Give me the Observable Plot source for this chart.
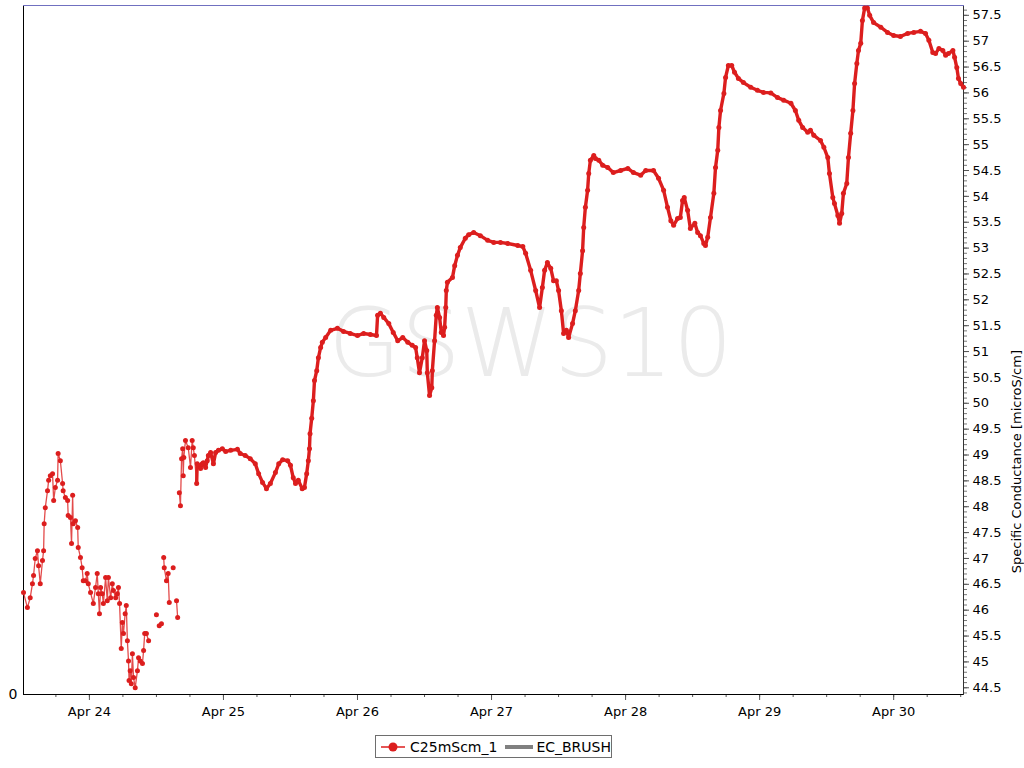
<!DOCTYPE html>
<html><head><meta charset="utf-8">
<script src="https://cdn.jsdelivr.net/npm/d3@7"></script>
<script src="https://cdn.jsdelivr.net/npm/@observablehq/plot@0.6"></script>
<style>
body{margin:0;background:#fff;font-family:"DejaVu Sans",sans-serif;}
#wrap{position:relative;width:1024px;height:768px;}
#legend{position:absolute;left:375px;top:735px;width:235px;height:21px;border:1px solid #6e6e6e;display:flex;align-items:center;font-size:14px;color:#000;}
#legend span{white-space:nowrap}
</style></head>
<body><div id="wrap"><div id="chart"></div>
<div id="legend">
<svg width="30" height="20" style="margin-left:3px"><line x1="2" x2="26" y1="10" y2="10" stroke="#dc1e1e" stroke-width="1.5"/><circle cx="14" cy="10" r="4.5" fill="#dc1e1e"/></svg>
<span style="margin-left:2px">C25mScm_1</span>
<svg width="34" height="20" style="margin-left:5px"><rect x="3" y="8" width="28" height="4" fill="#808080"/></svg>
<span style="margin-left:1px">EC_BRUSH</span>
</div></div>
<script>
// hours since Apr 24 00:00, null value = gap in the record
const hours = [
-11.8,-11.1,-10.6,-10.2,-10.0,-9.7,-9.3,-9.1,-8.8,-8.4,-8.2,-8.1,-7.9,-7.5,-7.3,-7.0,-6.6,-6.4,-6.1,-5.7,-5.6,-5.2,-4.8,-4.7,-4.3,-3.9,-3.8,-3.4,-3.2,-3.0,-2.9,-2.5,-2.1,-2.0,-1.6,-1.3,-1.1,-0.7,-0.4,-0.2,
0.2,0.7,1.1,1.4,1.6,1.8,2.0,2.3,2.5,2.9,3.2,3.4,3.8,4.1,4.3,4.7,5.0,5.2,5.4,5.7,5.9,6.1,6.4,6.6,6.8,7.0,7.1,7.3,7.5,7.7,7.9,8.2,8.6,8.8,9.1,9.5,9.7,9.9,10.2,10.6,
11.3,12.0,12.2,12.5,12.9,13.1,13.3,13.4,13.8,14.1,14.3,14.6,15.0,15.3,15.6,15.8,15.9,
16.1,16.3,16.5,16.7,16.8,16.9,17.2,17.7,18.1,18.4,18.6,18.8,19.2,19.3,19.5,19.9,20.2,20.4,20.8,21.1,21.3,21.7,22.2,22.6,23.1,23.8,24.4,25.3,26.5,27.0,27.9,28.8,29.7,30.3,31.0,31.7,32.4,33.3,33.9,34.6,35.5,36.0,36.5,36.9,37.4,38.1,38.5,38.9,39.2,39.4,
39.5,39.8,40.1,40.3,40.7,41.0,41.4,41.7,42.3,43.2,44.4,45.5,46.7,48.0,49.1,50.3,51.4,51.6,52.1,52.7,53.6,54.4,55.2,56.1,57.0,57.8,58.4,58.7,59.1,59.6,60.0,60.4,60.5,60.9,61.3,61.4,61.8,62.1,62.3,62.7,63.0,63.4,63.6,63.8,63.9,64.1,65.0,65.4,65.9,66.4,67.3,67.9,68.8,70.0,71.3,72.4,73.6,74.9,76.7,77.6,
78.1,79.0,79.9,80.6,81.1,81.5,82.0,82.6,83.1,83.6,84.0,84.5,84.9,85.4,85.8,86.5,87.0,87.6,87.9,88.3,88.5,88.8,89.2,89.4,89.7,90.3,90.6,91.2,91.9,92.8,93.8,95.1,96.4,97.4,98.7,99.6,101.0,101.9,102.8,103.5,104.1,104.6,105.3,105.8,106.2,106.5,107.1,107.6,108.4,108.9,109.4,110.0,110.3,110.7,111.2,111.8,112.1,112.5,112.7,113.0,113.6,113.9,114.4,115.0,115.5,116.2,117.1,118.4,119.6,120.7,122.0,123.2,124.3,125.6,126.4,127.0,127.7,128.6,129.1,129.7,130.9,131.5,132.2,132.5,133.1,133.4,134.0,134.3,134.7,135.0,135.6,135.9,136.3,136.7,137.0,137.4,137.7,138.1,138.4,138.8,139.3,139.7,140.4,141.7,142.9,144.0,145.2,146.5,147.6,148.8,149.7,150.3,151.0,151.5,152.1,152.8,153.3,153.8,154.6,154.9,155.3,155.6,156.0,156.5
];
const values = [
46.34,46.05,46.24,46.51,46.67,47.00,47.15,46.86,46.51,46.96,47.15,47.67,47.98,48.31,48.51,48.60,48.64,48.12,48.37,48.51,49.03,48.89,48.45,48.31,48.18,48.12,47.83,47.79,47.29,48.22,47.67,47.73,47.60,47.21,47.02,46.82,46.57,46.57,46.71,46.51,
46.34,46.13,46.44,46.71,46.32,45.93,46.44,46.32,46.13,46.63,46.18,46.63,46.24,46.51,46.38,46.24,46.32,46.44,46.13,45.26,45.76,45.55,45.93,46.09,45.41,45.02,44.64,44.83,44.58,45.16,44.70,44.50,44.83,45.08,45.02,44.97,45.22,45.55,45.55,45.41,
null,45.91,null,45.70,45.74,null,47.02,46.82,46.57,46.71,46.15,null,46.82,null,46.18,45.86,null,
48.27,48.02,48.93,49.12,48.60,48.95,49.28,49.14,48.76,49.28,49.14,48.99,48.45,48.83,48.80,48.74,48.83,48.85,48.76,48.89,48.99,49.05,48.83,49.05,49.09,49.12,49.07,49.09,49.11,49.03,48.99,48.93,48.83,48.64,48.47,48.35,48.45,48.66,48.83,48.91,48.89,48.80,48.56,48.45,48.51,48.35,48.37,48.64,48.89,49.12,
49.41,49.71,50.05,50.44,50.63,50.88,51.08,51.18,51.27,51.41,51.45,51.39,51.35,51.31,51.35,51.33,51.31,51.70,51.74,51.66,51.54,51.37,51.21,51.27,51.18,51.12,51.08,50.88,50.59,50.88,51.21,51.02,50.59,50.15,50.30,50.63,51.21,51.70,51.85,51.66,51.37,51.31,51.47,51.85,52.18,52.34,52.43,52.66,52.86,53.01,53.19,53.26,53.30,53.24,53.15,53.11,53.11,53.09,53.05,53.03,
52.90,52.57,52.18,51.85,52.24,52.57,52.72,52.61,52.37,52.37,52.18,51.79,51.35,51.41,51.27,51.54,51.79,52.18,52.51,52.95,53.40,53.79,54.12,54.44,54.70,54.79,54.73,54.70,54.60,54.56,54.46,54.50,54.54,54.46,54.41,54.50,54.50,54.35,54.12,53.79,53.53,53.44,53.57,53.59,53.92,53.98,53.73,53.38,53.48,53.30,53.24,53.09,53.05,53.21,53.59,54.06,54.56,54.89,55.33,55.66,55.99,56.30,56.53,56.53,56.40,56.28,56.20,56.11,56.05,56.01,56.00,55.91,55.86,55.80,55.66,55.47,55.33,55.24,55.28,55.18,55.08,54.95,54.75,54.44,53.98,53.86,53.63,53.48,53.67,54.06,54.25,54.75,55.22,55.66,56.18,56.57,56.82,56.96,57.40,57.64,57.64,57.50,57.36,57.27,57.17,57.11,57.09,57.15,57.17,57.19,57.15,57.02,56.78,56.76,56.86,56.82,56.73,56.76,56.82,56.69,56.49,56.28,56.18,56.11
];
const dayLabels = ["Apr 24","Apr 25","Apr 26","Apr 27","Apr 28","Apr 29","Apr 30"];
const seriesName = "C25mScm_1";
const yLabel = "Specific Conductance [microS/cm]";
const watermark = "GSWS10";

const base = Date.UTC(2020, 3, 24);
const H = 3600e3;
const data = hours.map((h, i) => ({t: new Date(base + h * H), v: values[i], h}));
const dense = data.filter(d => d.h >= 19);
const dots = data.filter(d => d.v != null);
const dayTicks = dayLabels.map((_, i) => new Date(base + i * 24 * H));
const xDomain = [new Date(base - 11.8 * H), new Date(base + 156.5 * H)];
const sixHour = d3.utcHour.every(6).range(xDomain[0], xDomain[1]);
const yMajor = d3.range(89, 116).map(i => i / 2);
const yMinor = d3.range(444, 577).map(i => i / 10);
const red = "#dc1e1e";

const chart = Plot.plot({
  width: 1024, height: 720,
  marginLeft: 23, marginRight: 61, marginTop: 5, marginBottom: 26,
  style: {fontFamily: "DejaVu Sans, sans-serif", fontSize: "13px", color: "#000", background: "#fff"},
  x: {type: "utc", domain: xDomain, label: null},
  y: {domain: [44.37, 57.69], label: null},
  marks: [
    Plot.text([watermark], {frameAnchor: "middle", dx: 37, dy: -4, fontSize: 94, fontWeight: 200, fill: "#ebebeb", fontFamily: "DejaVu Sans, sans-serif"}),
    Plot.axisX({ticks: sixHour, tickSize: 3, tickFormat: () => "", stroke: "#555", label: null}),
    Plot.axisX({ticks: dayTicks, tickSize: 6, tickPadding: 6, tickFormat: (d, i) => dayLabels[i], stroke: "#555", fontSize: 13, label: null}),
    Plot.axisY({anchor: "right", ticks: yMinor, tickSize: 3, tickFormat: () => "", stroke: "#777", label: null}),
    Plot.axisY({anchor: "right", ticks: yMajor, tickSize: 5, tickPadding: 4, tickFormat: d => String(d), stroke: "#555", label: null, fontSize: 13}),
    Plot.text([yLabel], {frameAnchor: "right", rotate: -90, dx: 53, fontSize: 13, fill: "#000"}),
    Plot.text(["0"], {frameAnchor: "bottom-left", lineAnchor: "middle", textAnchor: "end", dx: -6, fontSize: 14, fill: "#000"}),
    Plot.frame({anchor: "bottom", stroke: "#000"}),
    Plot.frame({anchor: "left", stroke: "#000"}),
    Plot.frame({anchor: "right", stroke: "#333"}),
    Plot.frame({anchor: "top", stroke: "#7070c0"}),
    Plot.line(data, {x: "t", y: "v", stroke: red, strokeWidth: 1.3, strokeOpacity: 0.8}),
    Plot.line(dense, {x: "t", y: "v", stroke: red, strokeWidth: 3.4}),
    Plot.dot(dots, {x: "t", y: "v", fill: red, r: 2.5})
  ]
});
document.getElementById("chart").appendChild(chart);
</script></body></html>
